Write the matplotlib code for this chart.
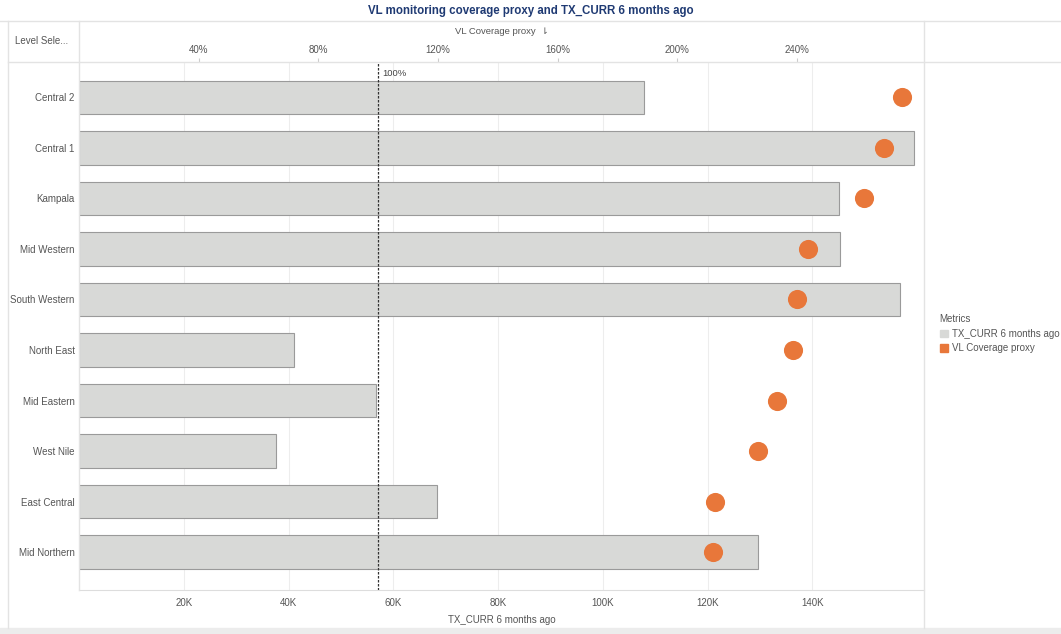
import matplotlib.pyplot as plt
from matplotlib.lines import Line2D
from matplotlib.patches import Patch, Rectangle

# values
regions = ['Central 2', 'Central 1', 'Kampala', 'Mid Western', 'South Western',
           'North East', 'Mid Eastern', 'West Nile', 'East Central', 'Mid Northern']
tx_curr = [107800, 159400, 145000, 145200, 156700, 41000, 56700, 37600, 68300, 129600]
vl_cov = [275.1, 269.1, 262.4, 243.7, 240.0, 238.7, 233.3, 226.9, 212.6, 211.9]
tx_ticks = [20000, 40000, 60000, 80000, 100000, 120000, 140000]
tx_labels = ['20K', '40K', '60K', '80K', '100K', '120K', '140K']
vl_ticks = [40, 80, 120, 160, 200, 240]
vl_labels = ['40%', '80%', '120%', '160%', '200%', '240%']

plt.rcParams['font.family'] = ['Liberation Sans', 'DejaVu Sans']
txt = '#555555'
bar_col = '#d8d9d7'
dot_col = '#e8773a'
fs = 7
W, H = 1061, 634

fig = plt.figure(figsize=(10.61, 6.34), dpi=100)

def fx(px):
    return px / W

def fy(py):
    return 1 - py / H

ax = fig.add_axes([fx(79), fy(590), fx(924 - 79), (590 - 62) / H])
y = list(range(len(regions)))
ax.barh(y, tx_curr, height=0.66, color=bar_col, edgecolor='#9a9a9a', linewidth=0.8, zorder=2)
ax.set_xlim(0, 161300)
ax.set_ylim(9.75, -0.7)
ax.set_yticks(y)
ax.set_yticklabels(regions)
ax.tick_params(axis='y', length=0, pad=3, labelsize=fs, labelcolor=txt)
ax.set_xticks(tx_ticks)
ax.set_xticklabels(tx_labels)
ax.tick_params(axis='x', length=0, pad=6, labelsize=fs, labelcolor=txt)
ax.grid(axis='x', color='#ededed', lw=0.8, zorder=0)
for s in ['top', 'left', 'right']:
    ax.spines[s].set_visible(False)
ax.spines['bottom'].set_color('#dddddd')
ax.set_xlabel('TX_CURR 6 months ago', fontsize=fs, color=txt, labelpad=5)

# top axis for VL coverage
ax2 = ax.twiny()
ax2.scatter(vl_cov, y, s=190, color=dot_col, zorder=3, linewidths=0)
ax2.set_xlim(0, 282.5)
ax2.set_xticks(vl_ticks)
ax2.set_xticklabels(vl_labels)
ax2.tick_params(axis='x', length=3, color='#cccccc', pad=2, labelsize=fs, labelcolor=txt)
for s in ax2.spines.values():
    s.set_visible(False)
ax2.axvline(100, color='#333333', ls=(0, (2, 1.2)), lw=0.9, zorder=4)
ax2.text(101.5, -0.48, '100%', fontsize=6.8, color='#444444', va='center')
ax2.set_xlabel('VL Coverage proxy  ⇂', fontsize=6.8, color=txt, labelpad=8)

# title and panel decorations
fig.text(0.5, fy(11), 'VL monitoring coverage proxy and TX_CURR 6 months ago',
         ha='center', va='center', fontsize=8.3, fontweight='bold', color='#1f3a73')
fig.text(fx(42), fy(41), 'Level Sele...', ha='center', va='center', fontsize=fs, color=txt)
lc = '#e3e3e3'
fig.add_artist(Line2D([0, 1], [fy(21), fy(21)], color=lc, lw=1))
fig.add_artist(Line2D([fx(8), 1], [fy(62), fy(62)], color=lc, lw=1))
fig.add_artist(Line2D([fx(79), fx(79)], [fy(21), fy(590)], color=lc, lw=1))
fig.add_artist(Line2D([fx(924), fx(924)], [fy(21), fy(628)], color=lc, lw=1))
fig.add_artist(Line2D([fx(8), fx(8)], [fy(21), fy(628)], color=lc, lw=1))
fig.add_artist(Rectangle((0, 0), 1, 6 / H, color='#ececec', transform=fig.transFigure))

handles = [Patch(color=bar_col), Patch(color=dot_col)]
leg = fig.legend(handles, ['TX_CURR 6 months ago', 'VL Coverage proxy'], title='Metrics',
                 loc='upper left', bbox_to_anchor=(fx(931), fy(305)), frameon=False,
                 fontsize=fs, title_fontsize=fs, handlelength=0.8, handleheight=0.8,
                 handletextpad=0.5, labelspacing=0.5, alignment='left')
for t in leg.get_texts():
    t.set_color(txt)
leg.get_title().set_color(txt)

fig.savefig('out.png', dpi=100)
